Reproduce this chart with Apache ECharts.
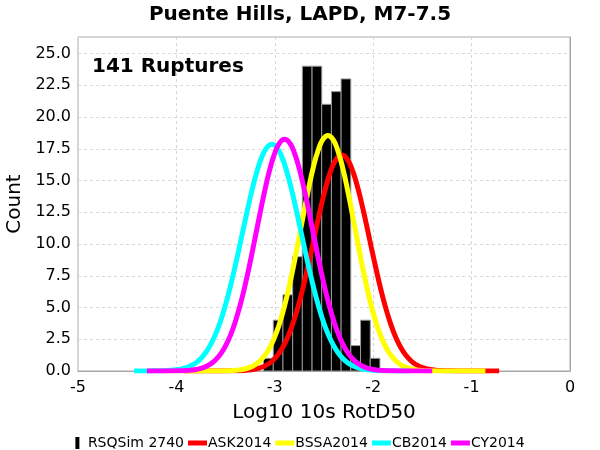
<!DOCTYPE html>
<html>
<head>
<meta charset="utf-8">
<script src="https://cdn.jsdelivr.net/npm/echarts@6/dist/echarts.min.js"></script>
<style>
html, body { margin: 0; padding: 0; background: #fff; }
#main { width: 600px; height: 450px; }
</style>
</head>
<body>
<div id="main"></div>
<script>
// histogram (RSQSim 2740), 141 ruptures
var binCenters = [-3.065, -2.966, -2.868, -2.769, -2.671, -2.572, -2.474, -2.375, -2.277, -2.178, -2.079, -1.981];
var binCounts = [1, 4, 6, 9, 24, 24, 21, 22, 23, 2, 4, 1];
var binWidth = 0.0986;

// GMPE curves
var askX = [-3.92,-3.82,-3.72,-3.62,-3.52,-3.42,
	-3.32,-3.27,-3.22,-3.17,-3.12,-3.07,-3.02,-2.97,-2.92,-2.87,-2.82,-2.77,-2.72,-2.67,-2.62,-2.57,-2.52,-2.47,-2.42,-2.37,
	-2.32,-2.27,-2.22,-2.17,-2.12,-2.07,-2.02,-1.97,-1.92,-1.87,-1.82,-1.77,-1.72,-1.67,-1.62,-1.57,-1.52,-1.47,-1.42,-1.37,-1.32,
	-1.22,-1.12,-1.02,-0.92,-0.82,-0.72];
var askY = [0,0,0,0,0,0.01,
	0.04,0.07,0.12,0.20,0.33,0.53,0.83,1.26,1.85,2.64,3.65,4.89,6.35,8.00,9.77,11.57,13.29,14.80,15.99,16.74,
	17.0,16.74,15.99,14.80,13.29,11.57,9.77,8.00,6.35,4.89,3.65,2.64,1.85,1.26,0.83,0.53,0.33,0.20,0.12,0.07,0.04,
	0.01,0,0,0,0,0];

var bssaX = [-4.06,-3.96,-3.86,-3.76,-3.66,-3.56,
	-3.46,-3.41,-3.36,-3.31,-3.26,-3.21,-3.16,-3.11,-3.06,-3.01,-2.96,-2.91,-2.86,-2.81,-2.76,-2.71,-2.66,-2.61,-2.56,-2.51,
	-2.46,-2.41,-2.36,-2.31,-2.26,-2.21,-2.16,-2.11,-2.06,-2.01,-1.96,-1.91,-1.86,-1.81,-1.76,-1.71,-1.66,-1.61,-1.56,-1.51,-1.46,
	-1.36,-1.26,-1.16,-1.06,-0.96,-0.86];
var bssaY = [0,0,0,0,0,0,
	0.02,0.05,0.09,0.16,0.27,0.45,0.73,1.14,1.72,2.51,3.55,4.86,6.44,8.25,10.23,12.27,14.24,15.99,17.36,18.25,
	18.55,18.25,17.36,15.99,14.24,12.27,10.23,8.25,6.44,4.86,3.55,2.51,1.72,1.14,0.73,0.45,0.27,0.16,0.09,0.05,0.02,
	0,0,0,0,0,0];

var cbX = [-4.43,-4.33,-4.23,-4.13,
	-4.03,-3.98,-3.93,-3.88,-3.83,-3.78,-3.73,-3.68,-3.63,-3.58,-3.53,-3.48,-3.43,-3.38,-3.33,-3.28,-3.23,-3.18,-3.13,-3.08,
	-3.03,-2.98,-2.93,-2.88,-2.83,-2.78,-2.73,-2.68,-2.63,-2.58,-2.53,-2.48,-2.43,-2.38,-2.33,-2.28,-2.23,-2.18,-2.13,-2.08,-2.03,
	-1.93,-1.83,-1.73,-1.63];
var cbY = [0,0,0.01,0.02,
	0.07,0.12,0.20,0.32,0.51,0.78,1.17,1.71,2.42,3.32,4.45,5.80,7.34,9.04,10.83,12.61,14.29,15.75,16.89,17.60,
	17.85,17.60,16.89,15.75,14.29,12.61,10.83,9.04,7.34,5.80,4.45,3.32,2.42,1.71,1.17,0.78,0.51,0.32,0.20,0.12,0.07,
	0.02,0.01,0,0];

var cyX = [-4.30,-4.20,-4.10,-4.00,
	-3.90,-3.85,-3.80,-3.75,-3.70,-3.65,-3.60,-3.55,-3.50,-3.45,-3.40,-3.35,-3.30,-3.25,-3.20,-3.15,-3.10,-3.05,-3.00,-2.95,
	-2.90,-2.85,-2.80,-2.75,-2.70,-2.65,-2.60,-2.55,-2.50,-2.45,-2.40,-2.35,-2.30,-2.25,-2.20,-2.15,-2.10,-2.05,-2.00,-1.95,-1.90,
	-1.80,-1.70,-1.60,-1.50,-1.40];
var cyY = [0,0,0,0.01,
	0.04,0.07,0.12,0.21,0.35,0.57,0.89,1.35,1.99,2.83,3.92,5.25,6.81,8.58,10.49,12.42,14.27,15.89,17.16,17.97,
	18.25,17.97,17.16,15.89,14.27,12.42,10.49,8.58,6.81,5.25,3.92,2.83,1.99,1.35,0.89,0.57,0.35,0.21,0.12,0.07,0.04,
	0.01,0,0,0,0];

function pairs(xs, ys) {
	var out = [];
	for (var i = 0; i < xs.length; i++) {
		out.push([xs[i], ys[i]]);
	}
	return out;
}

var histData = [];
for (var j = 0; j < binCenters.length; j++) {
	histData.push([binCenters[j], binCounts[j]]);
}

var font = 'DejaVu Sans';
var lineIcon = 'path://M0,0h19v5h-19z';

function curve(name, color, xs, ys) {
	return {
		name : name,
		type : 'line',
		data : pairs(xs, ys),
		smooth : true,
		showSymbol : false,
		symbol : 'none',
		lineStyle : {
			color : color,
			width : 5
		},
		itemStyle : {
			color : color
		},
		z : 3
	};
}

var option = {
	backgroundColor : '#ffffff',
	animation : false,
	textStyle : {
		fontFamily : font
	},
	title : {
		text : 'Puente Hills, LAPD, M7-7.5',
		left : 'center',
		top : 5,
		padding : 0,
		textStyle : {
			fontFamily : font,
			fontSize : 20,
			fontWeight : 'bold',
			color : '#000'
		}
	},
	graphic : [ {
		type : 'text',
		left : 92,
		top : 57,
		style : {
			text : '141 Ruptures',
			fontFamily : font,
			fontSize : 20,
			fontWeight : 'bold',
			fill : '#000'
		},
		z : 10
	} ],
	legend : {
		top : 431,
		left : 'center',
		itemWidth : 19,
		itemHeight : 12,
		itemGap : 4,
		textStyle : {
			fontFamily : font,
			fontSize : 14,
			color : '#000',
			padding : [ 0, 0, 0, -4 ]
		},
		data : [ {
			name : 'RSQSim 2740',
			icon : 'path://M0,0h4v12h-4z'
		}, {
			name : 'ASK2014',
			icon : lineIcon
		}, {
			name : 'BSSA2014',
			icon : lineIcon
		}, {
			name : 'CB2014',
			icon : lineIcon
		}, {
			name : 'CY2014',
			icon : lineIcon
		} ]
	},
	grid : {
		left : 78,
		right : 30,
		top : 37,
		bottom : 79,
		outerBoundsMode : 'none',
		containLabel : false,
		show : true,
		borderColor : '#a8a8a8',
		borderWidth : 1,
		backgroundColor : '#ffffff'
	},
	xAxis : {
		type : 'value',
		min : -5,
		max : 0,
		interval : 1,
		name : 'Log10 10s RotD50',
		nameLocation : 'middle',
		nameGap : 32,
		nameTextStyle : {
			fontFamily : font,
			fontSize : 20,
			color : '#000'
		},
		axisLine : {
			lineStyle : {
				color : '#a8a8a8'
			}
		},
		axisTick : {
			show : false
		},
		axisLabel : {
			margin : 9,
			fontFamily : font,
			fontSize : 16,
			color : '#000'
		},
		splitLine : {
			show : true,
			lineStyle : {
				color : '#d8d8d8',
				type : [ 3, 3 ]
			}
		}
	},
	yAxis : {
		type : 'value',
		min : 0,
		max : 26.3,
		interval : 2.5,
		name : 'Count',
		nameLocation : 'middle',
		nameGap : 52,
		nameTextStyle : {
			fontFamily : font,
			fontSize : 20,
			color : '#000'
		},
		axisLine : {
			show : true,
			lineStyle : {
				color : '#a8a8a8'
			}
		},
		axisTick : {
			show : false
		},
		axisLabel : {
			margin : 7,
			fontFamily : font,
			fontSize : 16,
			color : '#000',
			showMaxLabel : false,
			formatter : function(v) {
				return v.toFixed(1);
			}
		},
		splitLine : {
			show : true,
			lineStyle : {
				color : '#d8d8d8',
				type : [ 3, 3 ]
			}
		}
	},
	series : [ {
		name : 'RSQSim 2740',
		type : 'custom',
		data : histData,
		encode : {
			x : 0,
			y : 1
		},
		itemStyle : {
			color : '#000'
		},
		z : 2,
		renderItem : function(params, api) {
			var c = api.value(0);
			var h = api.value(1);
			var p0 = api.coord([ c - binWidth / 2, h ]);
			var p1 = api.coord([ c + binWidth / 2, 0 ]);
			return {
				type : 'rect',
				shape : {
					x : p0[0],
					y : p0[1],
					width : p1[0] - p0[0],
					height : p1[1] - p0[1]
				},
				style : {
					fill : '#000',
					stroke : '#999',
					lineWidth : 1
				}
			};
		}
	},
	curve('ASK2014', '#ff0000', askX, askY),
	curve('BSSA2014', '#ffff00', bssaX, bssaY),
	curve('CB2014', '#00ffff', cbX, cbY),
	curve('CY2014', '#ff00ff', cyX, cyY) ]
};

var myChart = echarts.init(document.getElementById('main'));
myChart.setOption(option);
</script>
</body>
</html>
